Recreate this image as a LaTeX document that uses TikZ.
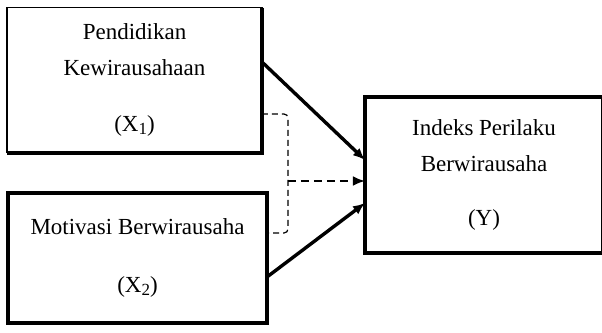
\documentclass[tikz,border=0pt]{standalone}
\usepackage{fontspec}
\setmainfont{Liberation Serif}
\usetikzlibrary{arrows.meta,positioning}
\newcommand{\idx}[1]{\raisebox{-0.3ex}{\fontsize{8.5}{9}\selectfont #1}}
\tikzset{
  var/.style={draw, line width=2pt, inner sep=0pt, outer sep=0pt, align=center, font=\fontsize{11.5}{18}\selectfont},
  varthin/.style={var, line width=0.6pt},
  arr/.style={-{Latex[length=6pt,width=5pt]}, line width=1.7pt},
  darr/.style={-{Latex[length=6pt,width=5pt]}, line width=1.4pt, dash pattern=on 4pt off 2.5pt},
  brk/.style={line width=0.6pt, dash pattern=on 3pt off 2pt, rounded corners=2pt}
}
\begin{document}
\begin{tikzpicture}[x=0.5pt, y=-0.5pt]
  \useasboundingbox (0,0) rectangle (602,333);
  \node[varthin, minimum width=127.5pt, minimum height=72.5pt] (pk) at (134.5,80) {Pendidikan\\Kewirausahaan\\[10pt](X\idx{1})};
  \draw[line width=2pt] (pk.north east) -- (pk.south east) -- (pk.south west);
  \node[var, minimum width=129.5pt, minimum height=65pt] (mb) at (137.5,258) {Motivasi Berwirausaha\\[11pt](X\idx{2})};
  \node[var, minimum width=119pt, minimum height=78pt] (iy) at (484,175) {Indeks Perilaku\\Berwirausaha\\[9pt](Y)};

  \coordinate (mid) at ([yshift=-3pt]iy.west);
  \draw[arr] ([yshift=9pt]pk.east) -- ([yshift=7.5pt]iy.west);
  \draw[arr] ([yshift=-9.5pt]mb.east) -- ([yshift=-14pt]iy.west);
  \draw[brk] ([yshift=-17pt]pk.east) -- ++(13pt,0) coordinate (jn) |- ([yshift=12.5pt]mb.east);
  \draw[darr] (jn |- mid) -- (mid);
\end{tikzpicture}
\end{document}
